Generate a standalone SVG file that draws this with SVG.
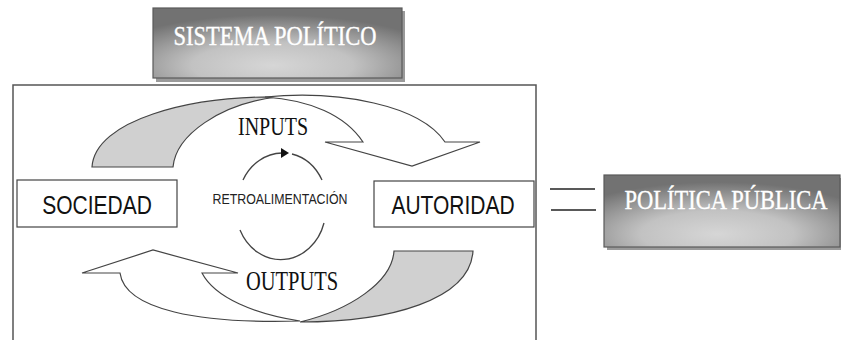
<svg xmlns="http://www.w3.org/2000/svg" width="841" height="340" viewBox="0 0 841 340">
<style>
.frame{fill:none;stroke:#555;stroke-width:1.5}
.box{fill:#fff;stroke:#444;stroke-width:1.2}
.lbl{font-family:"Liberation Sans",Arial,sans-serif;font-size:21px;fill:#111;text-anchor:middle}
.ser{font-family:"Liberation Serif","Times New Roman",serif;fill:#111;text-anchor:middle}
.ttl{font-family:"Liberation Serif","Times New Roman",serif;font-size:22.5px;fill:#fff;stroke:#fff;stroke-width:0.3;text-anchor:middle}
.gbox{stroke:#5a5a5a;stroke-width:1.2}
.shadow{fill:#9a9a9a}
.back{fill:#d0d0d0;stroke:#444;stroke-width:1.2}
.front{fill:#fff;stroke:#444;stroke-width:1.2}
.cyc{fill:none;stroke:#444;stroke-width:1.3}
.conn{stroke:#222;stroke-width:1.3}
</style>
<defs>
<radialGradient id="g" cx="48%" cy="82%" r="72%">
<stop offset="0" stop-color="#d6d6d6"/>
<stop offset="0.45" stop-color="#c2c2c2"/>
<stop offset="1" stop-color="#727272"/>
</radialGradient>
</defs>
<rect width="841" height="340" fill="#fff"/>
<g id="frame">
<path class="frame" d="M13,341 L13,85 L536,85 L536,341"/>
</g>
<g id="sistema">
<rect class="shadow" x="156" y="11" width="249" height="71"/>
<rect class="gbox" x="153" y="8" width="249" height="70" fill="url(#g)"/>
<text class="ttl" transform="translate(275,45) scale(1,1.22)">SISTEMA POLÍTICO</text>
</g>
<g id="politica">
<rect class="shadow" x="607" y="178" width="234" height="72"/>
<rect class="gbox" x="604" y="175" width="236" height="72" fill="url(#g)"/>
<text class="ttl" transform="translate(726,209) scale(1,1.22)">POLÍTICA PÚBLICA</text>
</g>
<g id="inputs-arrow">
<path class="back" d="M92,167 L173,167 C176,135 220,104 277,97 C190,96 95,120 92,167 Z"/>
<path class="front" d="M265,97 C340,90 420,105 445,142 L480,142 L412,166 L325,142 L363,142 C345,115 310,100 265,97 Z"/>
<text class="ser" font-size="20" transform="translate(273,135) scale(1,1.28)">INPUTS</text>
</g>
<g id="outputs-arrow">
<path class="back" d="M394,251 L473,251 C470,300 390,322 300,322 C350,310 392,282 394,251 Z"/>
<path class="front" d="M120,273 L82,273 L153,250 L238,273 L202,273 C215,298 255,314 300,321 C200,324 125,310 120,273 Z"/>
<text class="ser" font-size="20.5" transform="translate(292,290) scale(1,1.3)">OUTPUTS</text>
</g>
<g id="sociedad">
<rect class="box" x="17" y="180" width="160" height="47"/>
<text class="lbl" transform="translate(97,214) scale(1,1.2)">SOCIEDAD</text>
</g>
<g id="autoridad">
<rect class="box" x="374" y="181" width="160" height="46"/>
<text class="lbl" transform="translate(453,214) scale(1,1.2)">AUTORIDAD</text>
</g>
<g id="retro">
<path class="cyc" d="M243,180 A45,51 0 0 1 282,153"/>
<path d="M281,148 L289,153 L281,158 Z" fill="#111"/>
<path class="cyc" d="M292,154 A45,51 0 0 1 322,180"/>
<path class="cyc" d="M240,230 A45,51 0 0 0 324,223"/>
<text font-family="'Liberation Sans',Arial,sans-serif" font-size="13" fill="#222" text-anchor="middle" textLength="135" lengthAdjust="spacingAndGlyphs" transform="translate(280,204) scale(1,1.18)" x="0" y="0">RETROALIMENTACIÓN</text>
</g>
<g id="connectors">
<line class="conn" x1="550" y1="189" x2="595" y2="189"/>
<line class="conn" x1="551" y1="210" x2="596" y2="210"/>
</g>
</svg>
